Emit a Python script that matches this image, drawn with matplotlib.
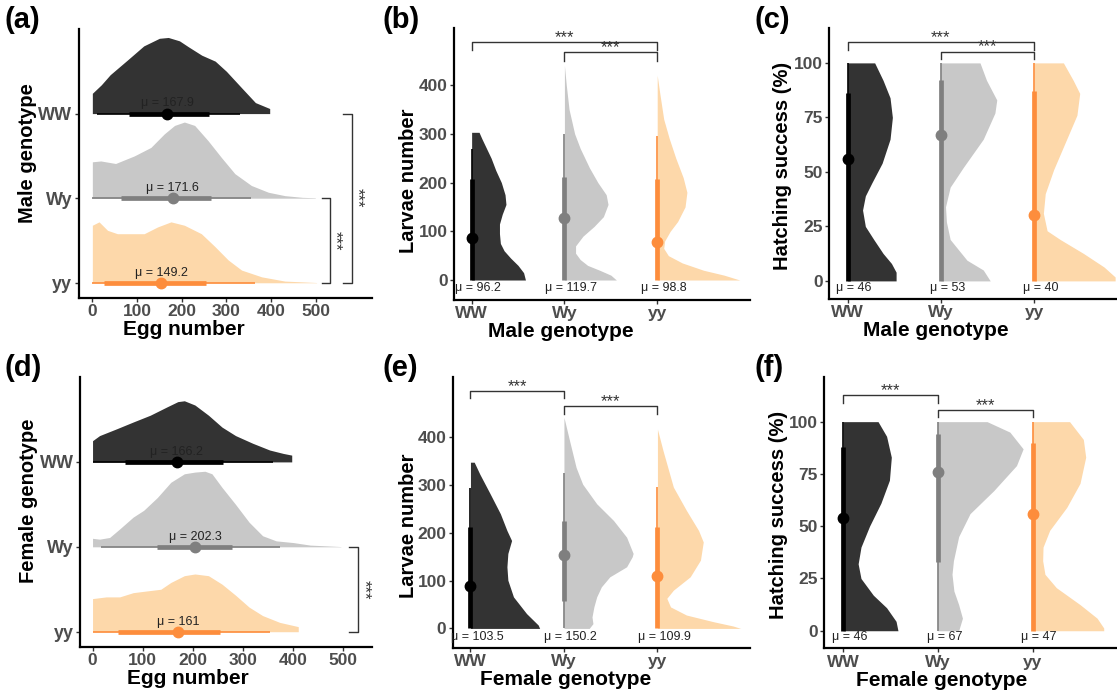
import numpy as np
import matplotlib.pyplot as plt

plt.rcParams['font.family'] = ['Liberation Sans', 'DejaVu Sans']

genotypes = ['WW', 'Wy', 'yy']
fill_cols = {'WW': '#333333', 'Wy': '#c8c8c8', 'yy': '#fdd8aa'}
line_cols = {'WW': '#000000', 'Wy': '#7f7f7f', 'yy': '#fd8d3c'}

# ---- (a) egg number by male genotype: density outline (value, height) ----
a_dens = {
    'WW': ([0, 20, 40, 80, 115, 150, 170, 195, 215, 245, 275, 300, 335, 365, 397],
           [0.24, 0.34, 0.46, 0.64, 0.80, 0.89, 0.90, 0.86, 0.79, 0.69, 0.62, 0.50, 0.30, 0.13, 0.06]),
    'Wy': ([0, 19, 52, 94, 131, 161, 184, 206, 229, 259, 289, 319, 356, 394, 431, 470, 499],
           [0.43, 0.44, 0.41, 0.50, 0.60, 0.76, 0.86, 0.90, 0.86, 0.68, 0.48, 0.29, 0.15, 0.07, 0.03, 0.01, 0.005]),
    'yy': ([0, 15, 34, 56, 116, 146, 176, 206, 244, 274, 304, 334, 379, 431, 502],
           [0.68, 0.72, 0.62, 0.58, 0.58, 0.66, 0.72, 0.68, 0.58, 0.43, 0.27, 0.15, 0.07, 0.02, 0.003]),
}
# thin interval, thick interval, point
a_int = {'WW': ((11, 330), (82, 262), 167), 'Wy': ((0, 356), (65, 266), 180), 'yy': ((0, 364), (26, 255), 154)}
a_means = {'WW': 'μ = 167.9', 'Wy': 'μ = 171.6', 'yy': 'μ = 149.2'}
a_sig = [('WW', 'yy', 581, 562), ('Wy', 'yy', 532, 513)]

# ---- (b) larvae number by male genotype ----
b_dens = {
    'WW': ([0, 15, 30, 45, 60, 75, 95, 115, 135, 155, 175, 200, 225, 250, 270, 290, 303],
           [0.58, 0.56, 0.50, 0.42, 0.35, 0.31, 0.30, 0.30, 0.33, 0.37, 0.36, 0.32, 0.26, 0.21, 0.16, 0.11, 0.08]),
    'Wy': ([0, 10, 20, 30, 42, 55, 70, 90, 110, 130, 155, 175, 200, 230, 270, 300, 350, 400, 440],
           [0.56, 0.50, 0.38, 0.25, 0.17, 0.12, 0.12, 0.20, 0.32, 0.42, 0.47, 0.45, 0.36, 0.27, 0.17, 0.11, 0.05, 0.02, 0.0]),
    'yy': ([0, 10, 20, 35, 50, 65, 80, 100, 120, 150, 180, 210, 250, 290, 330, 380, 420],
           [0.89, 0.72, 0.50, 0.27, 0.12, 0.07, 0.08, 0.14, 0.22, 0.30, 0.32, 0.28, 0.20, 0.13, 0.07, 0.03, 0.0]),
}
b_int = {'WW': ((0, 268), (0, 207), 86), 'Wy': ((0, 300), (0, 212), 128), 'yy': ((0, 295), (0, 207), 78)}
b_means = {'WW': 'μ = 96.2', 'Wy': 'μ = 119.7', 'yy': 'μ = 98.8'}
b_sig = [('WW', 'yy', 488, 472), ('Wy', 'yy', 468, 450)]

# ---- (c) hatching success by male genotype ----
c_dens = {
    'WW': ([0, 4, 8, 12.6, 19, 25, 32.5, 39, 45, 54, 65, 75, 84, 92, 100],
           [0.52, 0.52, 0.47, 0.38, 0.28, 0.19, 0.16, 0.19, 0.26, 0.37, 0.455, 0.48, 0.455, 0.38, 0.29]),
    'Wy': ([0, 5, 9.5, 19, 27, 34, 43, 52, 65, 77, 83, 92, 100],
           [0.53, 0.455, 0.28, 0.10, 0.06, 0.05, 0.10, 0.24, 0.455, 0.58, 0.60, 0.49, 0.42]),
    'yy': ([0, 1.8, 6.4, 12.6, 19, 23, 31, 40, 51, 65, 76, 86, 92, 100],
           [0.87, 0.87, 0.75, 0.53, 0.28, 0.14, 0.10, 0.12, 0.21, 0.35, 0.46, 0.49, 0.42, 0.315]),
}
c_int = {'WW': ((0, 100), (0, 86), 56), 'Wy': ((0, 100), (0, 92), 67), 'yy': ((0, 100), (0, 87), 30)}
c_means = {'WW': 'μ = 46', 'Wy': 'μ = 53', 'yy': 'μ = 40'}
c_sig = [('WW', 'yy', 109.5, 106), ('Wy', 'yy', 105.2, 101.7)]

# ---- (d) egg number by female genotype ----
d_dens = {
    'WW': ([0, 14, 48, 81, 115, 149, 170, 183, 204, 231, 258, 285, 319, 353, 380, 397],
           [0.25, 0.31, 0.39, 0.47, 0.55, 0.65, 0.71, 0.72, 0.67, 0.55, 0.41, 0.31, 0.22, 0.14, 0.10, 0.08]),
    'Wy': ([0, 14, 34, 54, 81, 102, 129, 156, 183, 204, 224, 238, 258, 285, 312, 339, 366, 400, 434, 495],
           [0.10, 0.09, 0.11, 0.21, 0.35, 0.43, 0.58, 0.76, 0.86, 0.88, 0.89, 0.86, 0.70, 0.50, 0.29, 0.13, 0.07, 0.05, 0.02, 0.003]),
    'yy': ([0, 27, 54, 81, 108, 136, 156, 183, 204, 231, 258, 285, 312, 339, 373, 410],
           [0.39, 0.41, 0.41, 0.46, 0.48, 0.50, 0.58, 0.66, 0.68, 0.66, 0.56, 0.43, 0.29, 0.19, 0.11, 0.06]),
}
d_int = {'WW': ((0, 360), (64, 261), 168), 'Wy': ((17, 373), (128, 278), 205), 'yy': ((0, 353), (51, 254), 170)}
d_means = {'WW': 'μ = 166.2', 'Wy': 'μ = 202.3', 'yy': 'μ = 161'}
d_sig = [('Wy', 'yy', 529, 511)]

# ---- (e) larvae number by female genotype ----
e_dens = {
    'WW': ([0, 7, 31, 66, 101, 129, 157, 184, 205, 240, 282, 323, 348],
           [0.74, 0.725, 0.60, 0.46, 0.40, 0.39, 0.40, 0.44, 0.39, 0.32, 0.21, 0.10, 0.04]),
    'Wy': ([0, 10, 24, 45, 66, 87, 108, 129, 150, 157, 191, 226, 261, 302, 337, 393, 442],
           [0.27, 0.31, 0.30, 0.32, 0.35, 0.40, 0.49, 0.67, 0.73, 0.74, 0.67, 0.53, 0.35, 0.20, 0.13, 0.06, 0.0]),
    'yy': ([0, 5, 14, 28, 45, 63, 80, 108, 143, 181, 205, 247, 296, 372, 417],
           [0.89, 0.81, 0.60, 0.31, 0.14, 0.10, 0.17, 0.35, 0.46, 0.49, 0.44, 0.31, 0.17, 0.06, 0.0]),
}
e_int = {'WW': ((0, 295), (0, 212), 88), 'Wy': ((0, 325), (58, 225), 154), 'yy': ((0, 297), (0, 212), 110)}
e_means = {'WW': 'μ = 103.5', 'Wy': 'μ = 150.2', 'yy': 'μ = 109.9'}
e_sig = [('WW', 'Wy', 497, 482), ('Wy', 'yy', 466, 449)]

# ---- (f) hatching success by female genotype ----
f_dens = {
    'WW': ([0, 4.5, 11, 17, 25, 32, 40, 50, 61, 72, 83, 93, 100],
           [0.58, 0.56, 0.46, 0.32, 0.19, 0.16, 0.19, 0.28, 0.40, 0.49, 0.51, 0.46, 0.37]),
    'Wy': ([0, 6, 12.5, 19, 27, 33.5, 45, 56, 67, 79, 87, 95, 100],
           [0.22, 0.26, 0.22, 0.17, 0.15, 0.165, 0.22, 0.34, 0.59, 0.83, 0.90, 0.76, 0.52]),
    'yy': ([0, 1.3, 6, 12.5, 20.6, 27, 33.5, 40, 48, 59, 70.5, 83, 91.5, 100],
           [0.75, 0.75, 0.68, 0.50, 0.25, 0.13, 0.106, 0.11, 0.18, 0.36, 0.50, 0.56, 0.535, 0.39]),
}
f_int = {'WW': ((0, 100), (0, 88), 54), 'Wy': ((0, 100), (33, 94), 76), 'yy': ((0, 100), (0, 90), 56)}
f_means = {'WW': 'μ = 46', 'Wy': 'μ = 67', 'yy': 'μ = 47'}
f_sig = [('WW', 'Wy', 112.8, 108.8), ('Wy', 'yy', 105.6, 102)]

W, H = 1117, 692
fig = plt.figure(figsize=(W / 100, H / 100), dpi=100)


def make_ax(l, t, r, b):
    return fig.add_axes([l / W, 1 - b / H, (r - l) / W, (b - t) / H])


def style(ax):
    for s in ['top', 'right']:
        ax.spines[s].set_visible(False)
    for s in ['left', 'bottom']:
        ax.spines[s].set_linewidth(1.6)
        ax.spines[s].set_color('black')
    ax.tick_params(length=3, width=1, color='#333333', labelcolor='#4d4d4d', labelsize=12.5, pad=1.5)
    for lab in ax.get_xticklabels() + ax.get_yticklabels():
        lab.set_fontweight('bold')


def horiz_panel(ax, dens, ints, means, sig, xlim, xlab, ylab, lab_off=0.12):
    pos = {'WW': 3, 'Wy': 2, 'yy': 1}
    for g in genotypes:
        v, h = dens[g]
        p = pos[g]
        ax.fill_between(v, p, p + np.array(h), color=fill_cols[g], lw=0, zorder=1)
        thin, thick, pt = ints[g]
        ax.plot(thin, [p, p], color=line_cols[g], lw=1.2, solid_capstyle='butt', zorder=2)
        ax.plot(thick, [p, p], color=line_cols[g], lw=3.4, solid_capstyle='butt', zorder=2)
        ax.plot(pt, p, 'o', color=line_cols[g], ms=7.5, zorder=3)
        ax.text(pt, p + lab_off, means[g], ha='center', va='center', fontsize=9, color='#222222')
    for g1, g2, lev, tk in sig:
        ax.plot([tk, lev, lev, tk], [pos[g1], pos[g1], pos[g2], pos[g2]], color='#333333', lw=1.0)
        ax.text(lev + 12, (pos[g1] + pos[g2]) / 2, '***', rotation=270, ha='center', va='center',
                fontsize=12, color='#333333')
    ax.set_xlim(*xlim)
    ax.set_ylim(0.82, 4.0)
    ax.set_xticks([0, 100, 200, 300, 400, 500])
    ax.set_yticks([pos[g] for g in genotypes])
    ax.set_yticklabels(genotypes)
    style(ax)
    ax.tick_params(axis='y', labelsize=13)
    ax.set_xlabel(xlab, fontsize=15, fontweight='bold')
    ax.set_ylabel(ylab, fontsize=14.5, fontweight='bold')


def vert_panel(ax, dens, ints, means, sig, ylim, yticks, mean_y, xlab, ylab):
    pos = {'WW': 1, 'Wy': 2, 'yy': 3}
    for g in genotypes:
        v, w = dens[g]
        p = pos[g]
        ax.fill_betweenx(v, p, p + np.array(w), color=fill_cols[g], lw=0, zorder=1)
        thin, thick, pt = ints[g]
        ax.plot([p, p], thin, color=line_cols[g], lw=1.2, solid_capstyle='butt', zorder=2)
        ax.plot([p, p], thick, color=line_cols[g], lw=3.4, solid_capstyle='butt', zorder=2)
        ax.plot(p, pt, 'o', color=line_cols[g], ms=7.5, zorder=3)
        ax.text(p + 0.07, mean_y, means[g], ha='center', va='center', fontsize=9, color='#222222')
    for g1, g2, lev, tk in sig:
        ax.plot([pos[g1], pos[g1], pos[g2], pos[g2]], [tk, lev, lev, tk], color='#333333', lw=1.0)
        ax.text((pos[g1] + pos[g2]) / 2, lev, '***', ha='center', va='baseline',
                fontsize=12, color='#333333')
    ax.set_ylim(*ylim)
    ax.set_yticks(yticks)
    ax.set_xticks([pos[g] for g in genotypes])
    ax.set_xticklabels(genotypes)
    style(ax)
    ax.tick_params(axis='x', labelsize=12.5)
    ax.set_xlabel(xlab, fontsize=15, fontweight='bold')
    ax.set_ylabel(ylab, fontsize=14.5, fontweight='bold')


ax_a = make_ax(78.5, 29, 372, 298)
horiz_panel(ax_a, a_dens, a_int, a_means, a_sig, (-31, 626), 'Egg number', 'Male genotype')
ax_a.xaxis.set_label_coords(0.36, -0.082)
ax_a.yaxis.set_label_coords(-0.142, 0.54)

ax_b = make_ax(454, 28, 750, 300)
vert_panel(ax_b, b_dens, b_int, b_means, b_sig, (-41, 517), [0, 100, 200, 300, 400], -16,
           'Male genotype', 'Larvae number')
ax_b.set_xlim(0.81, 4.0)
ax_b.xaxis.set_label_coords(0.36, -0.082)
ax_b.yaxis.set_label_coords(-0.122, 0.44)

ax_c = make_ax(829, 28, 1117, 299)
vert_panel(ax_c, c_dens, c_int, c_means, c_sig, (-8.3, 116), [0, 25, 50, 75, 100], -3.2,
           'Male genotype', 'Hatching success (%)')
ax_c.set_xlim(0.8, 3.89)
ax_c.xaxis.set_label_coords(0.37, -0.082)
ax_c.yaxis.set_label_coords(-0.128, 0.49)

ax_d = make_ax(80, 377, 372, 647)
horiz_panel(ax_d, d_dens, d_int, d_means, d_sig, (-25, 557), 'Egg number', 'Female genotype')
ax_d.xaxis.set_label_coords(0.37, -0.082)
ax_d.yaxis.set_label_coords(-0.145, 0.54)

ax_e = make_ax(452.7, 376.7, 750, 648)
vert_panel(ax_e, e_dens, e_int, e_means, e_sig, (-41, 527), [0, 100, 200, 300, 400], -17,
           'Female genotype', 'Larvae number')
ax_e.set_xlim(0.81, 3.99)
ax_e.xaxis.set_label_coords(0.38, -0.082)
ax_e.yaxis.set_label_coords(-0.118, 0.45)

ax_f = make_ax(824, 376.7, 1117, 648.3)
vert_panel(ax_f, f_dens, f_int, f_means, f_sig, (-8.4, 121.5), [0, 25, 50, 75, 100], -3,
           'Female genotype', 'Hatching success (%)')
ax_f.set_xlim(0.8, 3.89)
ax_f.xaxis.set_label_coords(0.40, -0.082)
ax_f.yaxis.set_label_coords(-0.124, 0.49)

for lab, x, y in [('(a)', 5, 6), ('(b)', 382, 6), ('(c)', 754, 6),
                  ('(d)', 5, 354), ('(e)', 382, 354), ('(f)', 754, 354)]:
    fig.text(x / W, 1 - y / H, lab, fontsize=21, fontweight='bold', va='top', ha='left')

fig.savefig('out.png', dpi=100)
